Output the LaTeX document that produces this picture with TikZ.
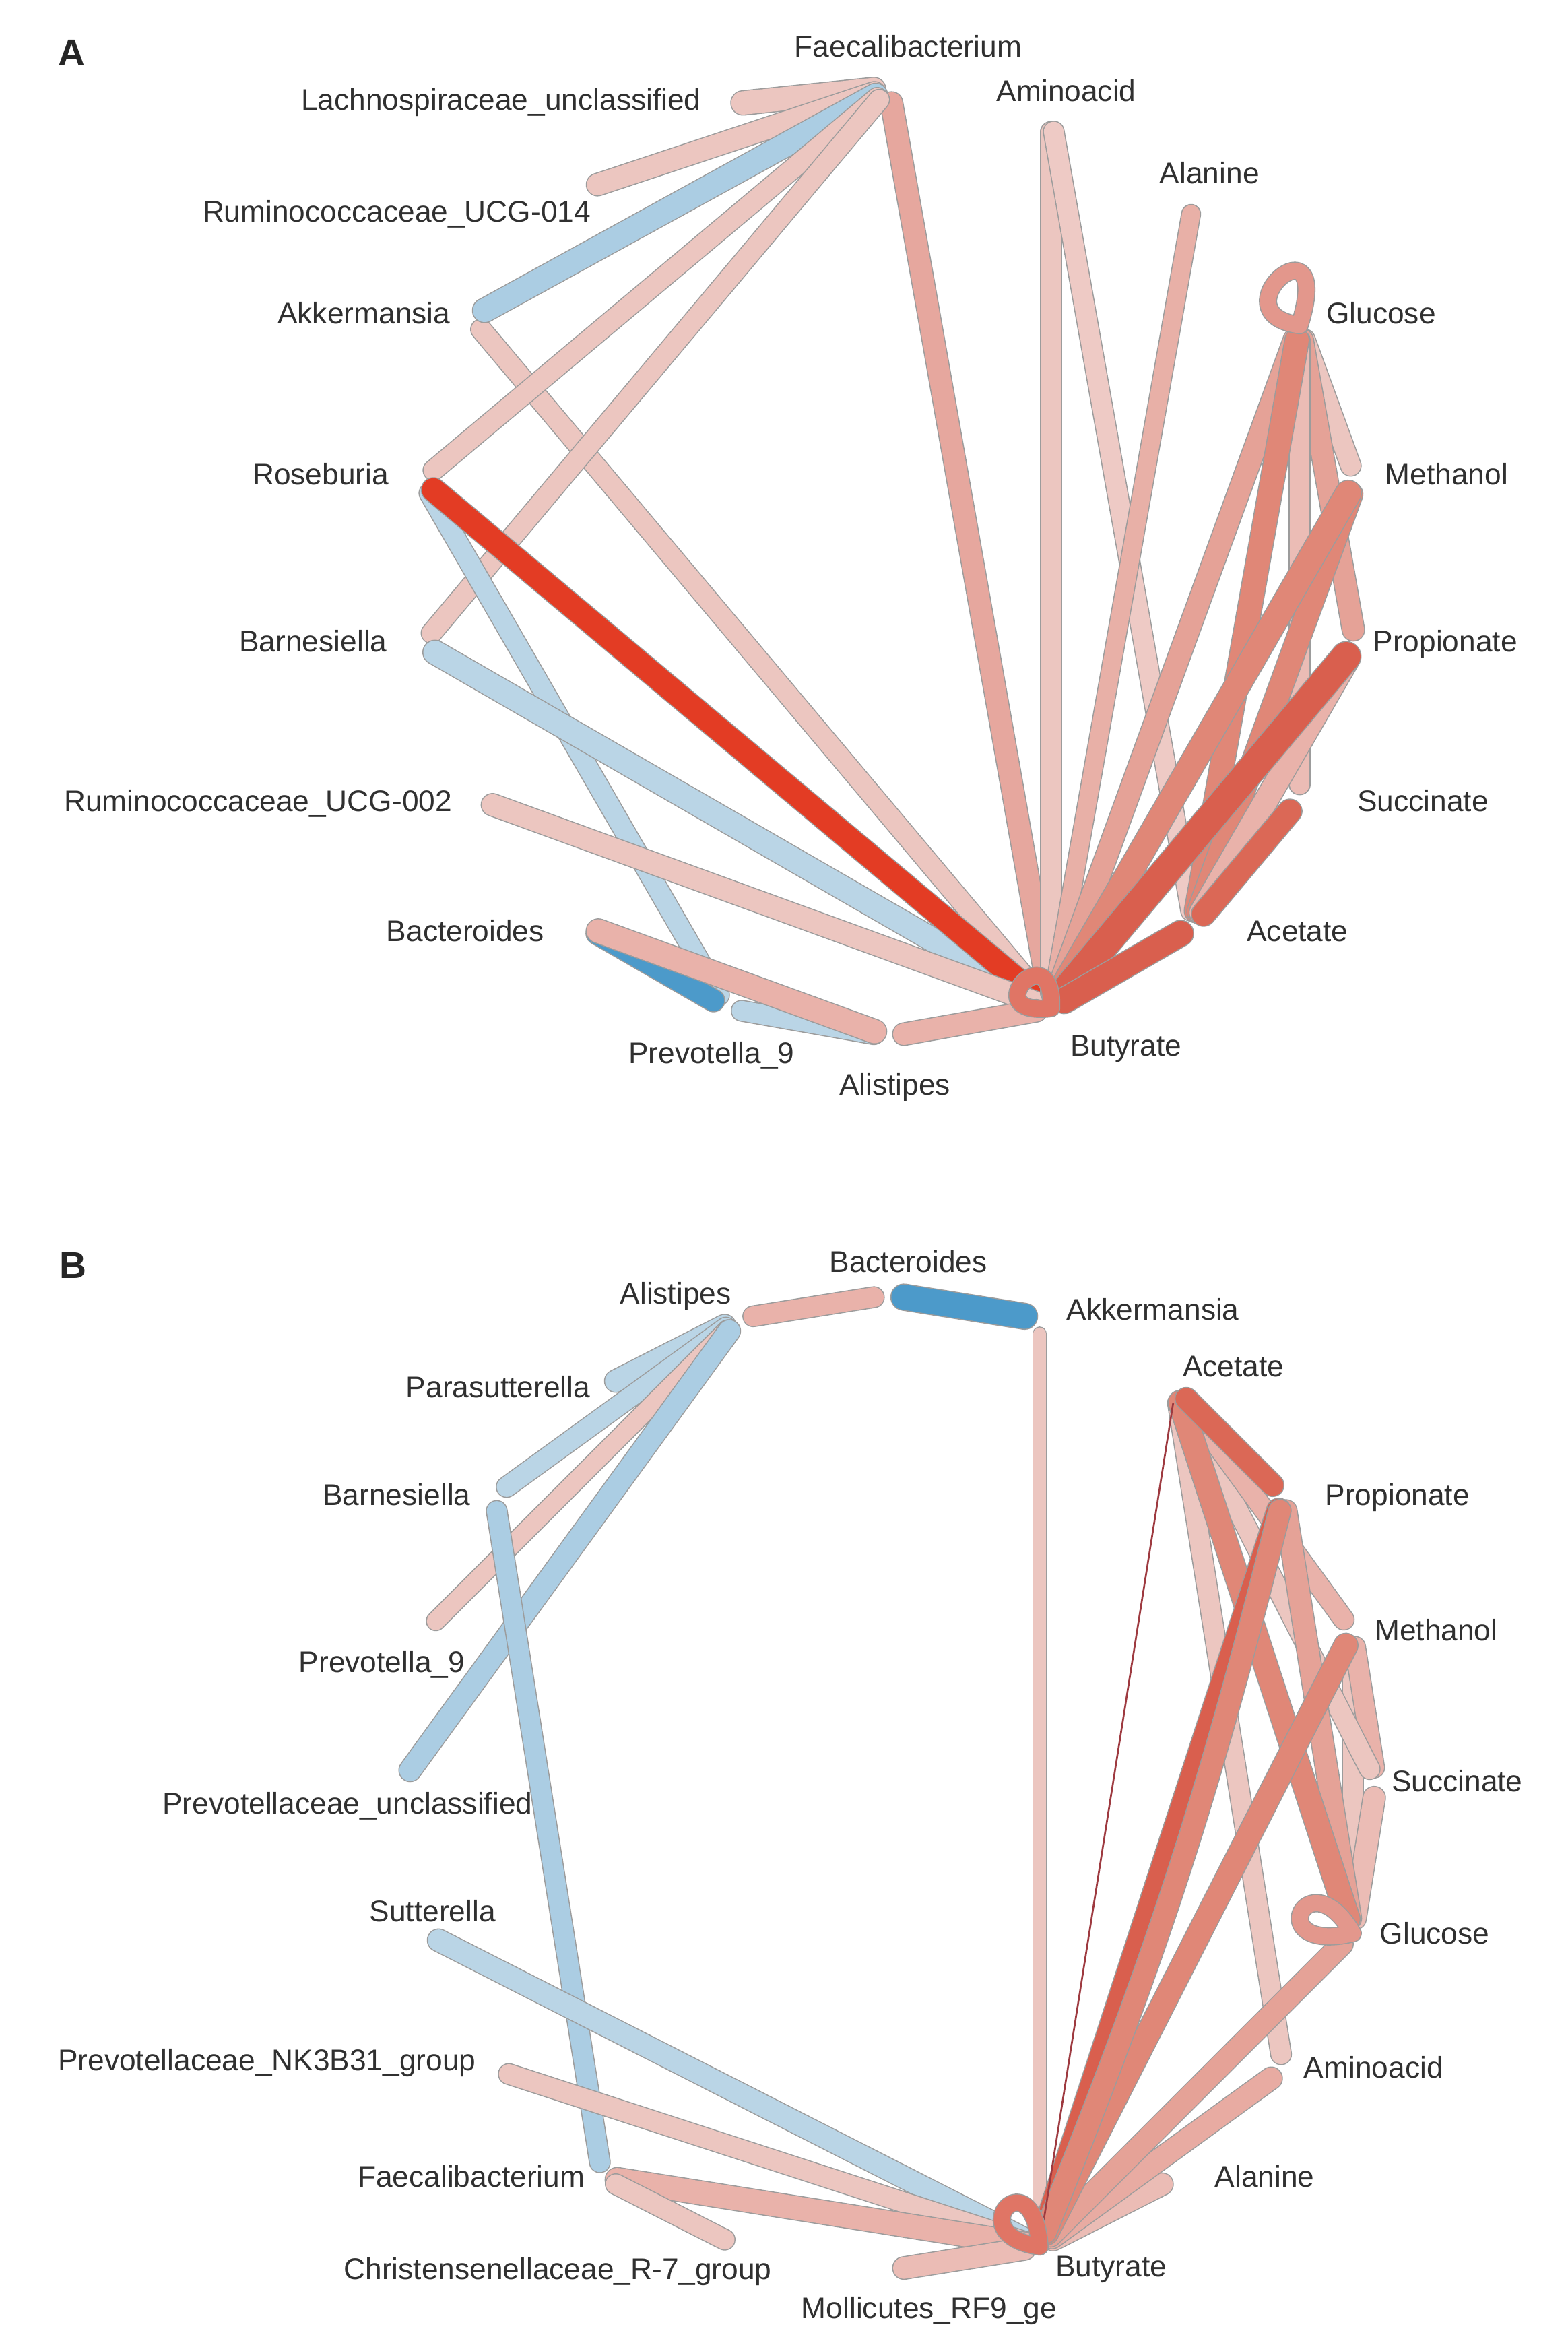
\documentclass[tikz,border=0pt]{standalone}
\usepackage{fontspec}
\setmainfont{Liberation Sans}
\definecolor{olc}{HTML}{9C9C9C}
\definecolor{labc}{HTML}{303030}
\definecolor{cL}{HTML}{ECC6C0}
\definecolor{cVL}{HTML}{EECAC5}
\definecolor{cL2}{HTML}{EBBCB5}
\definecolor{cM}{HTML}{E9B2AA}
\definecolor{cM2}{HTML}{E8B0A7}
\definecolor{cMa}{HTML}{E8ABA2}
\definecolor{cMM}{HTML}{E5A297}
\definecolor{cFAB}{HTML}{E6A79E}
\definecolor{cS}{HTML}{E08777}
\definecolor{cD}{HTML}{D95F4E}
\definecolor{cD2}{HTML}{DB6856}
\definecolor{cRed}{HTML}{E33C24}
\definecolor{cBL}{HTML}{BAD5E6}
\definecolor{cBM}{HTML}{ABCDE3}
\definecolor{cBD}{HTML}{4C9ACA}
\definecolor{cLoopA}{HTML}{E3978C}
\definecolor{cLoopB}{HTML}{E07565}
\definecolor{cThin}{HTML}{9E3A40}
\tikzset{
  vx/.style={circle,minimum size=20pt,inner sep=0pt},
  ed/.style 2 args={line cap=round,line join=round,
    preaction={draw=olc,line width=1.2*#2pt+1.4pt,line cap=round,line join=round},
    draw=#1,line width=1.2*#2pt},
  thinedge/.style={draw=cThin,line width=1.2pt},
  lab/.style={font=\fontsize{20}{24}\selectfont,text=labc,anchor=base,inner sep=0pt},
  panel/.style={font=\fontsize{25}{30}\selectfont\bfseries,text=black!85,anchor=base,inner sep=0pt}
}
\begin{document}
\begin{tikzpicture}[x=1pt,y=-1pt]
\useasboundingbox (0,0) rectangle (1051,1568);
\fill[white] (0,0) rectangle (1051,1568);

% ---------------- Panel A vertices ----------------
\node[vx] (aFA)   at ({596+318*cos(90)},{377-318*sin(90)}) {};
\node[vx] (aAM)   at ({596+318*cos(70)},{377-318*sin(70)}) {};
\node[vx] (aAL)   at ({596+318*cos(50)},{377-318*sin(50)}) {};
\node[vx] (aGL)   at ({596+318*cos(30)},{377-318*sin(30)}) {};
\node[vx] (aME)   at ({596+318*cos(10)},{377-318*sin(10)}) {};
\node[vx] (aPR)   at ({596+318*cos(-10)},{377-318*sin(-10)}) {};
\node[vx] (aSU)   at ({596+318*cos(-30)},{377-318*sin(-30)}) {};
\node[vx] (aAC)   at ({596+318*cos(-50)},{377-318*sin(-50)}) {};
\node[vx] (aBU)   at ({596+318*cos(-70)},{377-318*sin(-70)}) {};
\node[vx] (aALI)  at ({596+318*cos(-90)},{377-318*sin(-90)}) {};
\node[vx] (aPV9)  at ({596+318*cos(-110)},{377-318*sin(-110)}) {};
\node[vx] (aBAC)  at ({596+318*cos(-130)},{377-318*sin(-130)}) {};
\node[vx] (aR002) at ({596+318*cos(-150)},{377-318*sin(-150)}) {};
\node[vx] (aBAR)  at ({596+318*cos(-170)},{377-318*sin(-170)}) {};
\node[vx] (aROS)  at ({596+318*cos(170)},{377-318*sin(170)}) {};
\node[vx] (aAKK)  at (316,213) {};
\node[vx] (aR014) at (391,127) {};
\node[vx] (aLACH) at (488,70) {};

% ---------------- Panel A edges ----------------
\draw[ed={cFAB}{12}] (aFA) -- (aBU);
\draw[ed={cL}{11}] (aAKK) -- (aBU);
\draw[ed={cL}{13}] (aFA) -- (aLACH);
\draw[ed={cL}{12}] (aFA) -- (aR014);
\draw[ed={cBM}{13}] (aFA) -- (aAKK);
\draw[ed={cL}{11}] (aFA) -- (aROS);
\draw[ed={cL}{11}] (aFA) -- (aBAR);
\draw[ed={cBL}{11}] (aROS) -- (aPV9);
\draw[ed={cBL}{13}] (aBAR) -- (aBU);
\draw[ed={cRed}{13}] (aROS) -- (aBU);
\draw[ed={cL}{12}] (aR002) -- (aBU);
\draw[ed={cBD}{12}] (aBAC) -- (aPV9);
\draw[ed={cBL}{11}] (aPV9) -- (aALI);
\draw[ed={cM}{13}] (aBAC) -- (aALI);
\draw[ed={cL}{11}] (aAM) -- (aBU);
\draw[ed={cVL}{11}] (aAM) -- (aAC);
\draw[ed={cM2}{10}] (aAL) -- (aBU);
\draw[ed={cL}{11}] (aGL) -- (aME);
\draw[ed={cMM}{12}] (aGL) -- (aPR);
\draw[ed={cL2}{11}] (aGL) -- (aSU);
\draw[ed={cMM}{12}] (aGL) -- (aBU);
\draw[ed={cS}{13}] (aGL) -- (aAC);
\draw[ed={cS}{13}] (aME) -- (aAC);
\draw[ed={cS}{14}] (aME) -- (aBU);
\draw[ed={cM}{13}] (aPR) -- (aAC);
\draw[ed={cD}{16}] (aPR) -- (aBU);
\draw[ed={cD2}{13}] (aSU) -- (aAC);
\draw[ed={cD}{14}] (aAC) -- (aBU);
\draw[ed={cM}{12}] (aALI) -- (aBU);
\draw[ed={cLoopA}{9}] (aGL.center) .. controls +(-58,-8) and +(24,-78) .. (aGL.center);
\draw[ed={cLoopB}{9}] (aBU.center) .. controls +(-52,6) and +(2,-52) .. (aBU.center);

% ---------------- Panel A labels ----------------
\node[panel] (pA) at (48,44) {A};
\node[lab] (laFA)   at (609,38)  {Faecalibacterium};
\node[lab] (laLACH) at (336,74)  {Lachnospiraceae\_unclassified};
\node[lab] (laAM)   at (715,68)  {Aminoacid};
\node[lab] (laAL)   at (811,123) {Alanine};
\node[lab] (laR014) at (266,149) {Ruminococcaceae\_UCG-014};
\node[lab] (laAKK)  at (244,217) {Akkermansia};
\node[lab] (laGL)   at (926,217) {Glucose};
\node[lab] (laROS)  at (215,325) {Roseburia};
\node[lab] (laME)   at (970,325) {Methanol};
\node[lab] (laBAR)  at (210,437) {Barnesiella};
\node[lab] (laPR)   at (969,437) {Propionate};
\node[lab] (laR002) at (173,544) {Ruminococcaceae\_UCG-002};
\node[lab] (laSU)   at (954,544) {Succinate};
\node[lab] (laBAC)  at (312,631) {Bacteroides};
\node[lab] (laAC)   at (870,631) {Acetate};
\node[lab] (laPV9)  at (477,713) {Prevotella\_9};
\node[lab] (laBU)   at (755,708) {Butyrate};
\node[lab] (laALI)  at (600,734) {Alistipes};

% ---------------- Panel B vertices ----------------
\node[vx] (bBAC) at ({596+327*cos(90)},{1195-327*sin(90)}) {};
\node[vx] (bAKK) at ({596+327*cos(72)},{1195-327*sin(72)}) {};
\node[vx] (bAC)  at ({596+327*cos(54)},{1195-327*sin(54)}) {};
\node[vx] (bPR)  at ({596+327*cos(36)},{1195-327*sin(36)}) {};
\node[vx] (bME)  at ({596+327*cos(18)},{1195-327*sin(18)}) {};
\node[vx] (bSU)  at ({596+327*cos(0)},{1195-327*sin(0)}) {};
\node[vx] (bGL)  at ({596+327*cos(-18)},{1195-327*sin(-18)}) {};
\node[vx] (bAM)  at ({596+327*cos(-36)},{1195-327*sin(-36)}) {};
\node[vx] (bAL)  at ({596+327*cos(-54)},{1195-327*sin(-54)}) {};
\node[vx] (bBU)  at ({596+327*cos(-72)},{1195-327*sin(-72)}) {};
\node[vx] (bMOL) at ({596+327*cos(-90)},{1195-327*sin(-90)}) {};
\node[vx] (bCHR) at ({596+327*cos(-108)},{1195-327*sin(-108)}) {};
\node[vx] (bFB)  at ({596+327*cos(-126)},{1195-327*sin(-126)}) {};
\node[vx] (bNK)  at ({596+327*cos(-144)},{1195-327*sin(-144)}) {};
\node[vx] (bSUT) at ({596+327*cos(-162)},{1195-327*sin(-162)}) {};
\node[vx] (bPVU) at ({596+327*cos(180)},{1195-327*sin(180)}) {};
\node[vx] (bPV9) at ({596+327*cos(162)},{1195-327*sin(162)}) {};
\node[vx] (bBAR) at ({596+327*cos(144)},{1195-327*sin(144)}) {};
\node[vx] (bPAR) at ({596+327*cos(126)},{1195-327*sin(126)}) {};
\node[vx] (bALI) at ({596+327*cos(108)},{1195-327*sin(108)}) {};

% ---------------- Panel B edges ----------------
\draw[ed={cBL}{12}] (bALI) -- (bPAR);
\draw[ed={cBL}{11}] (bALI) -- (bBAR);
\draw[ed={cL}{10}] (bALI) -- (bPV9);
\draw[ed={cBM}{12}] (bALI) -- (bPVU);
\draw[ed={cBM}{11}] (bBAR) -- (bFB);
\draw[ed={cBL}{12}] (bSUT) -- (bBU);
\draw[ed={cL}{11}] (bNK) -- (bBU);
\draw[ed={cM}{13}] (bFB) -- (bBU);
\draw[ed={cL}{11}] (bCHR) -- (bFB);
\draw[ed={cL2}{12}] (bMOL) -- (bBU);
\draw[ed={cM}{11}] (bALI) -- (bBAC);
\draw[ed={cBD}{14}] (bBAC) -- (bAKK);
\draw[ed={cL}{7}] (bAKK) -- (bBU);
\draw[ed={cL}{11}] (bAC) -- (bAM);
\draw[ed={cL2}{12}] (bAL) -- (bBU);
\draw[ed={cMa}{12}] (bAM) -- (bBU);
\draw[ed={cMM}{12}] (bGL) -- (bBU);
\draw[ed={cL}{11}] (bME) -- (bGL);
\draw[ed={cL2}{12}] (bSU) -- (bGL);
\draw[ed={cM}{11}] (bME) -- (bSU);
\draw[ed={cL}{11}] (bAC) -- (bSU);
\draw[ed={cM}{11}] (bAC) -- (bME);
\draw[ed={cMM}{12}] (bPR) -- (bGL);
\draw[ed={cS}{13}] (bAC) -- (bGL);
\draw[ed={cS}{13}] (bME) -- (bBU);
\draw[ed={cD}{13}] (bPR) -- (bBU);
\draw[ed={cS}{12}] (bPR) to[bend left=4] (bBU);
\draw[ed={cD2}{12}] (bAC) -- (bPR);
\draw[thinedge] (bAC) -- (bBU);
\draw[ed={cLoopA}{9}] (bGL.center) .. controls +(-62,14) and +(-30,-52) .. (bGL.center);
\draw[ed={cLoopB}{9}] (bBU.center) .. controls +(-55,-8) and +(-4,-62) .. (bBU.center);

% ---------------- Panel B labels ----------------
\node[panel] (pB) at (49,857) {B};
\node[lab] (lbBAC) at (609,853)  {Bacteroides};
\node[lab] (lbALI) at (453,874)  {Alistipes};
\node[lab] (lbAKK) at (773,885)  {Akkermansia};
\node[lab] (lbAC)  at (827,923)  {Acetate};
\node[lab] (lbPAR) at (334,937)  {Parasutterella};
\node[lab] (lbPR)  at (937,1009) {Propionate};
\node[lab] (lbBAR) at (266,1009) {Barnesiella};
\node[lab] (lbME)  at (963,1100) {Methanol};
\node[lab] (lbPV9) at (256,1121) {Prevotella\_9};
\node[lab] (lbSU)  at (977,1201) {Succinate};
\node[lab] (lbPVU) at (233,1216) {Prevotellaceae\_unclassified};
\node[lab] (lbSUT) at (290,1288) {Sutterella};
\node[lab] (lbGL)  at (962,1303) {Glucose};
\node[lab] (lbNK)  at (179,1388) {Prevotellaceae\_NK3B31\_group};
\node[lab] (lbAM)  at (921,1393) {Aminoacid};
\node[lab] (lbFB)  at (316,1466) {Faecalibacterium};
\node[lab] (lbAL)  at (848,1466) {Alanine};
\node[lab] (lbBU)  at (745,1526) {Butyrate};
\node[lab] (lbCHR) at (374,1528) {Christensenellaceae\_R-7\_group};
\node[lab] (lbMOL) at (623,1554) {Mollicutes\_RF9\_ge};
\end{tikzpicture}
\end{document}
